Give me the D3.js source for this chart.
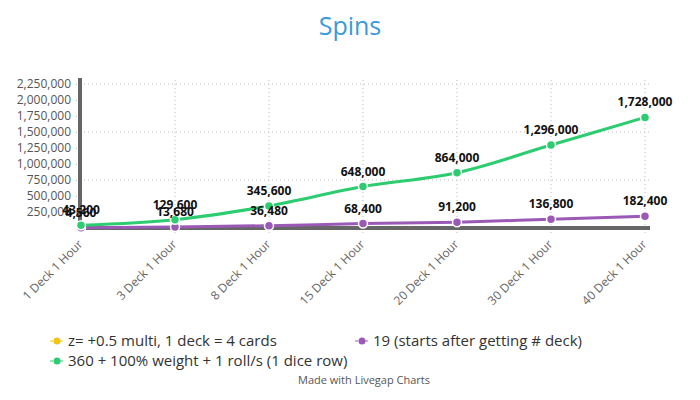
<!DOCTYPE html>
<html>
<head>
<meta charset="utf-8">
<script src="https://cdn.jsdelivr.net/npm/d3@7"></script>
<style>
  body { margin: 0; background: #fff; }
  svg { font-family: "Open Sans", sans-serif; }
</style>
</head>
<body>
<svg id="chart" width="700" height="400"></svg>
<script>
const categories = ["1 Deck 1 Hour", "3 Deck 1 Hour", "8 Deck 1 Hour", "15 Deck 1 Hour", "20 Deck 1 Hour", "30 Deck 1 Hour", "40 Deck 1 Hour"];
const seriesNames = ["z= +0.5 multi, 1 deck = 4 cards", "19 (starts after getting # deck)", "360 + 100% weight + 1 roll/s (1 dice row)"];
const seriesColors = ["#f1c40f", "#9b59b6", "#2ecc71"];
const yellowValues = [];
const purpleValues = [4560, 13680, 36480, 68400, 91200, 136800, 182400];
const greenValues = [43200, 129600, 345600, 648000, 864000, 1296000, 1728000];
const yTicks = [250000, 500000, 750000, 1000000, 1250000, 1500000, 1750000, 2000000, 2250000];
const yGrid = [750000, 1500000, 2250000];

const svg = d3.select("#chart");
const x = d3.scalePoint().domain(categories).range([81, 645]);
const y = d3.scaleLinear().domain([0, 2250000]).range([228, 84]);

// title
svg.append("text").attr("x", 350).attr("y", 35).attr("text-anchor", "middle")
  .attr("font-size", 25).attr("fill", "#3a9ad9").text("Spins");

// gridlines
const grid = svg.append("g");
grid.selectAll("line.h").data(yGrid).enter().append("line")
  .attr("x1", 80).attr("x2", 650).attr("y1", d => y(d)).attr("y2", d => y(d))
  .attr("stroke", "#bbb").attr("stroke-width", 1).attr("stroke-dasharray", "1,3");
grid.selectAll("line.v").data(categories).enter().append("line")
  .attr("x1", d => x(d)).attr("x2", d => x(d)).attr("y1", 80).attr("y2", 236)
  .attr("stroke", "#bbb").attr("stroke-width", 1).attr("stroke-dasharray", "1,3");

// y axis
const yAxis = d3.axisLeft(y).tickValues(yTicks).tickFormat(d3.format(",")).tickSize(4).tickPadding(5);
const gy = svg.append("g").attr("transform", "translate(80,0)").call(yAxis);
gy.select(".domain").remove();
gy.selectAll(".tick line").attr("stroke", "#bbb").attr("stroke-dasharray", "1,2");
gy.selectAll(".tick text").attr("fill", "#555").attr("font-size", 12).attr("font-family", "Open Sans");
svg.append("line").attr("x1", 80).attr("x2", 80).attr("y1", 78).attr("y2", 230)
  .attr("stroke", "#666").attr("stroke-width", 4);

// x axis
const xAxis = d3.axisBottom(x).tickSize(0).tickPadding(0);
const gx = svg.append("g").attr("transform", "translate(0,228)").call(xAxis);
gx.select(".domain").remove();
gx.selectAll(".tick text").attr("fill", "#666").attr("font-size", 12).attr("font-family", "Open Sans")
  .attr("text-anchor", "end").attr("x", 0).attr("y", 0).attr("dx", 0).attr("dy", 0)
  .attr("transform", "translate(2,17) rotate(-45)");
svg.append("line").attr("x1", 80).attr("x2", 650).attr("y1", 228).attr("y2", 228)
  .attr("stroke", "#666").attr("stroke-width", 4);

// lines
const line = d3.line().x((d, i) => x(categories[i])).y(d => y(d)).curve(d3.curveMonotoneX);
const series = [
  { values: yellowValues, color: seriesColors[0] },
  { values: purpleValues, color: seriesColors[1] },
  { values: greenValues, color: seriesColors[2] }
];
series.forEach(s => {
  if (!s.values.length) return;
  svg.append("path").datum(s.values).attr("d", line)
    .attr("fill", "none").attr("stroke", s.color).attr("stroke-width", 3);
});
series.forEach(s => {
  svg.append("g").selectAll("circle").data(s.values).enter().append("circle")
    .attr("cx", (d, i) => x(categories[i])).attr("cy", d => y(d)).attr("r", 4.5)
    .attr("fill", s.color).attr("stroke", "#fff").attr("stroke-width", 1.5);
});
series.forEach(s => {
  svg.append("g").selectAll("text").data(s.values).enter().append("text")
    .attr("x", (d, i) => x(categories[i])).attr("y", d => y(d) - 11)
    .attr("text-anchor", "middle").attr("font-size", 12).attr("font-weight", "bold")
    .attr("fill", "#111").text(d => d3.format(",")(d));
});

// legend
const legendPos = [[57, 341], [362, 341], [57, 361]];
seriesNames.forEach((name, i) => {
  const [lx, ly] = legendPos[i];
  const g = svg.append("g");
  g.append("line").attr("x1", lx - 7).attr("x2", lx + 8).attr("y1", ly).attr("y2", ly)
    .attr("stroke", seriesColors[i]).attr("stroke-width", 1).attr("stroke-dasharray", "3,2");
  g.append("circle").attr("cx", lx).attr("cy", ly).attr("r", 3.5).attr("fill", seriesColors[i]);
  g.append("text").attr("x", lx + 11).attr("y", ly + 5).attr("font-size", 15)
    .attr("fill", "#333").text(name);
});

svg.append("text").attr("x", 364).attr("y", 384).attr("text-anchor", "middle")
  .attr("font-size", 11).attr("fill", "#555").text("Made with Livegap Charts");
</script>
</body>
</html>
